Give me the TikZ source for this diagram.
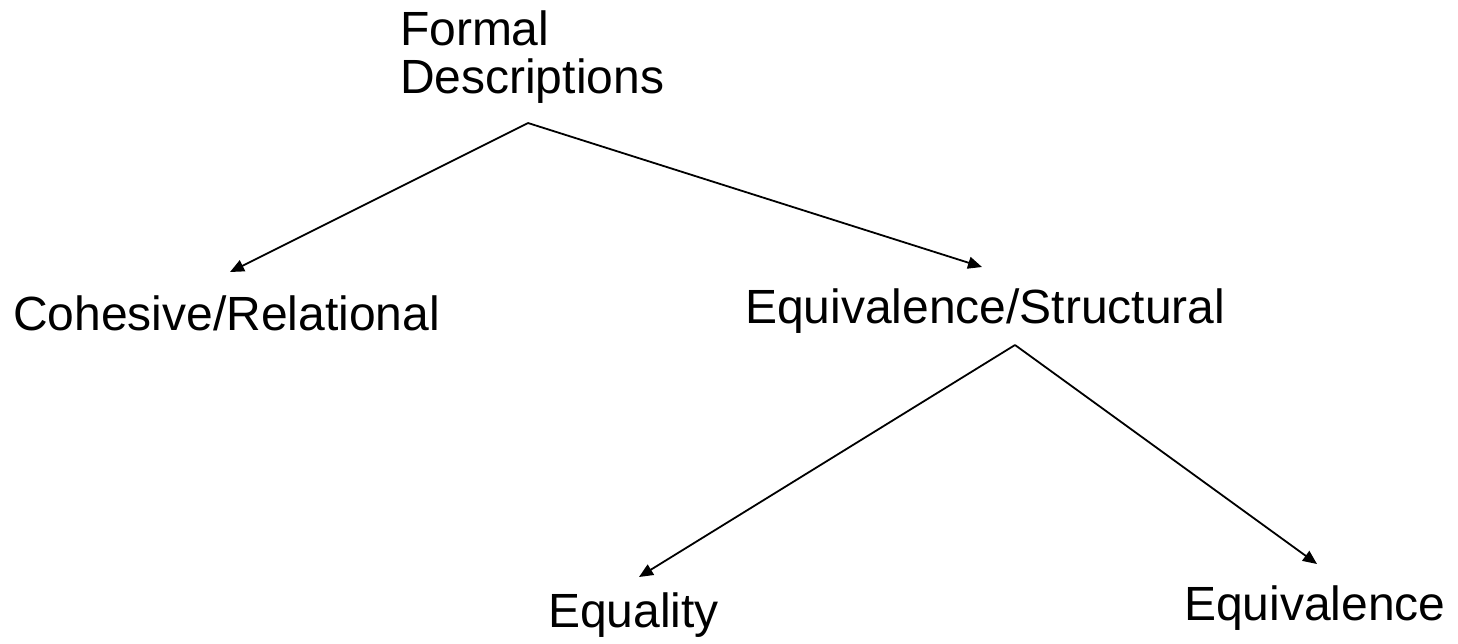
\documentclass[tikz,border=0pt]{standalone}
\usepackage{fontspec}
\setmainfont{Liberation Sans}
\usetikzlibrary{arrows.meta}
\begin{document}
\begin{tikzpicture}[x=1pt,y=-1pt,
  label/.style={inner sep=0pt, outer sep=0pt, anchor=base west,
    font=\fontsize{48}{49}\selectfont},
  branch/.style={line width=1.8pt, -{Triangle[length=14pt,width=12pt]}}]
  \useasboundingbox (0,0) rectangle (1458,643);

  % category labels
  \node[label] (formal) at (400,45) {Formal};
  \node[label] (descr) at (400,93) {Descriptions};
  \node[label] (cohesive) at (13,330) {Cohesive/Relational};
  \node[label] (structural) at (745,323) {Equivalence/Structural};
  \node[label] (equality) at (548,627) {Equality};
  \node[label] (equivalence) at (1184,620) {Equivalence};

  % fork points under the parent labels and arrow ends over the children
  \coordinate (rootfork) at (528,123);
  \coordinate (structfork) at (1015,345);
  \coordinate (cohesiveend) at (230,272);
  \coordinate (structend) at (982,267);
  \coordinate (equalityend) at (639,577);
  \coordinate (equivend) at (1317,564);

  \draw[branch] (rootfork) -- (cohesiveend);
  \draw[branch] (rootfork) -- (structend);
  \draw[branch] (structfork) -- (equalityend);
  \draw[branch] (structfork) -- (equivend);
\end{tikzpicture}
\end{document}
